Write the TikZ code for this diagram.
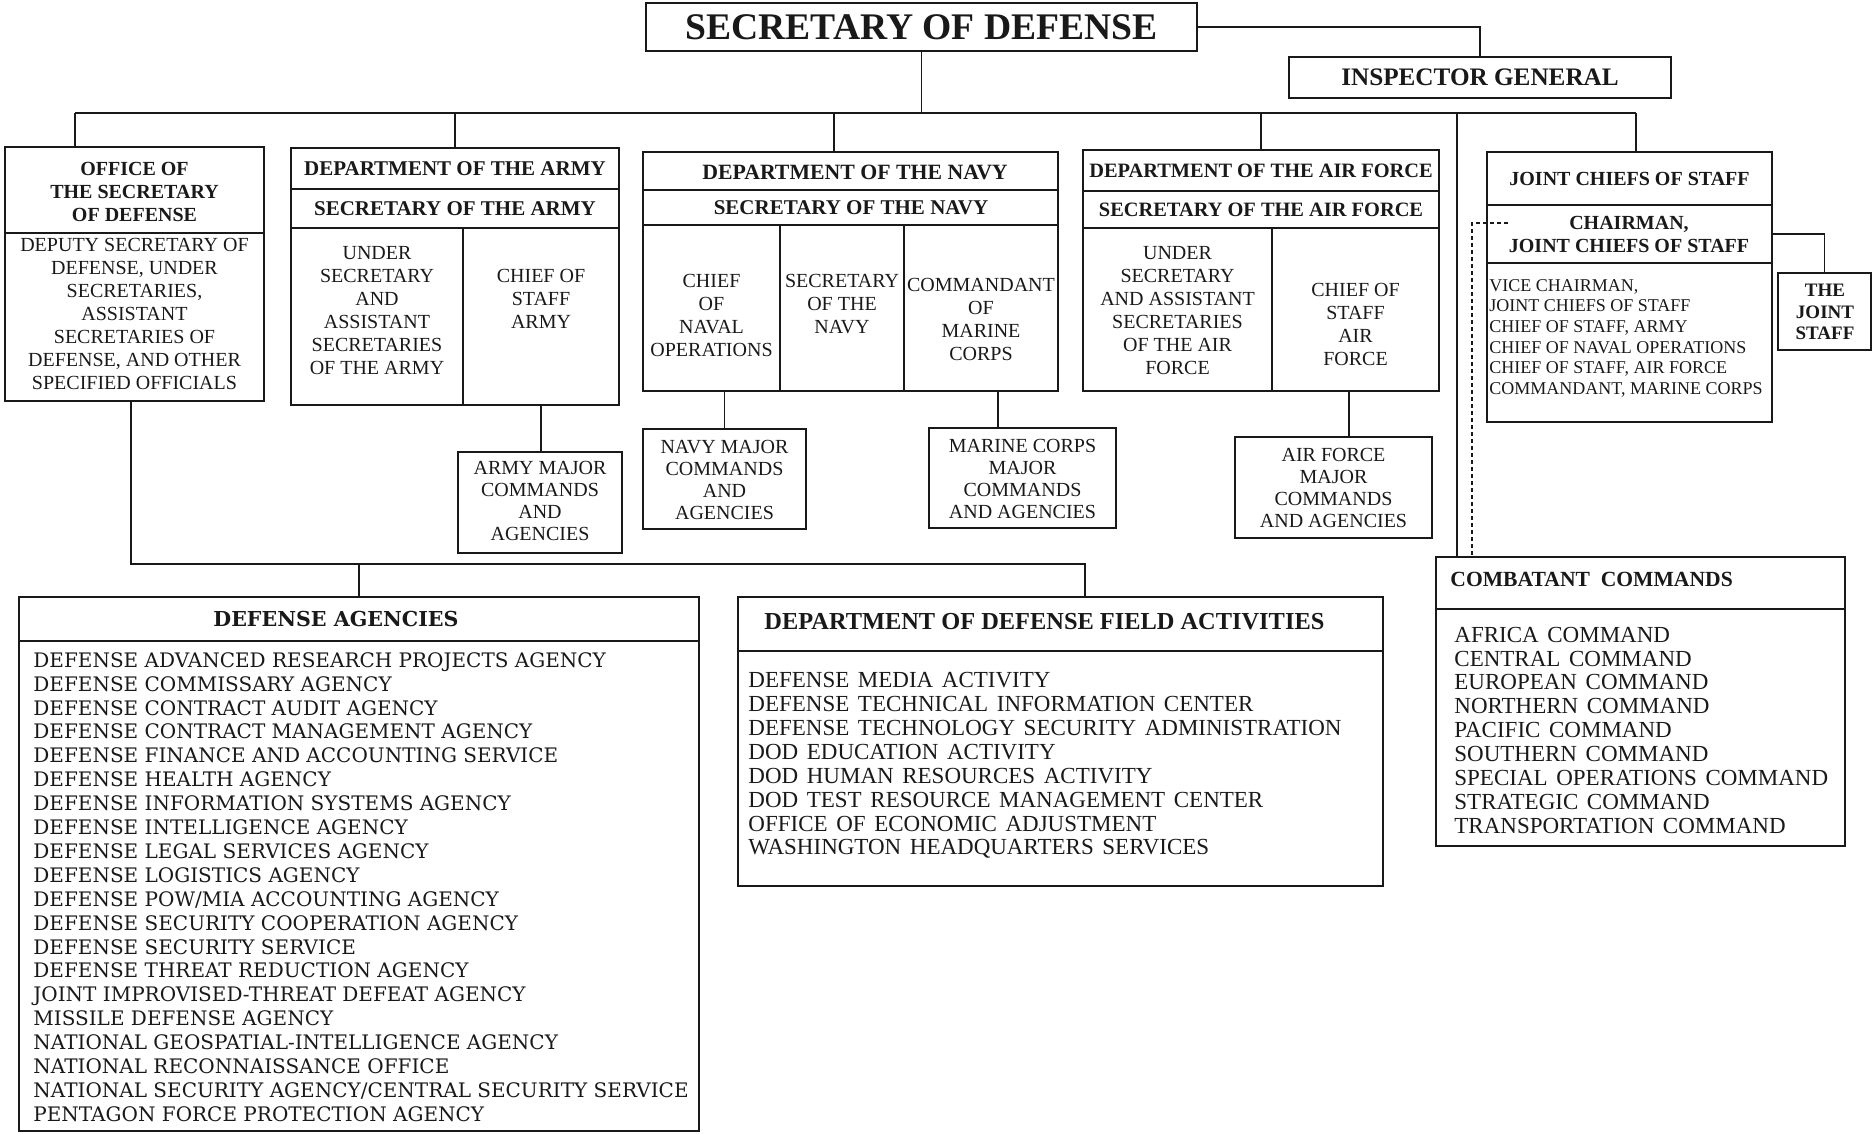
\documentclass[tikz,border=0pt]{standalone}
\usepackage{fontspec}
\setmainfont{Liberation Serif}
\newfontfamily\wideserif{DejaVu Serif}
\newfontfamily\spacedserif{Liberation Serif}[WordSpace=1.5]
\usetikzlibrary{fit}
\definecolor{ink}{RGB}{25,25,25}
\tikzset{
  orgbox/.style={draw=ink,line width=0.9pt,inner sep=0pt},
  majbox/.style={orgbox,line width=1.4pt},
  headtxt/.style={align=center,inner sep=0pt,text=ink,font=\bfseries\fontsize{10.5}{12}\selectfont},
  celltxt/.style={align=center,inner sep=0pt,text=ink,font=\fontsize{10}{11.5}\selectfont},
  majtxt/.style={celltxt,font=\fontsize{10}{11}\selectfont},
  listtxt/.style={align=left,inner sep=0pt,anchor=north west,text=ink},
  link/.style={draw=ink,line width=0.9pt},
  dashlink/.style={link,dash pattern=on 2pt off 1.5pt}
}

\begin{document}
\begin{tikzpicture}[x=0.5pt,y=-0.5pt]
  \useasboundingbox (0,0) rectangle (1873,1134);
  % top level
  \node[orgbox,fit={(646,3) (1197,51)}] (secdef) {};
  \node[headtxt,font=\bfseries\fontsize{18.8}{22}\selectfont] (secdeftxt) at (secdef.center) {SECRETARY OF DEFENSE};
  \node[orgbox,fit={(1289,57) (1671,98)}] (ig) {};
  \node[headtxt,font=\bfseries\fontsize{12.6}{14}\selectfont] (igtxt) at (ig.center) {INSPECTOR GENERAL};
  % office of the secretary
  \node[orgbox,fit={(5,147) (264,233)}] (osdhead) {};
  \node[headtxt,font=\bfseries\fontsize{10}{11.5}\selectfont] (osdheadtxt) at (134.5,192) {OFFICE OF\\THE SECRETARY\\OF DEFENSE};
  \node[orgbox,fit={(5,233) (264,401)}] (osdbody) {};
  \node[celltxt] (osdtxt) at (134.5,314) {DEPUTY SECRETARY OF\\DEFENSE, UNDER\\SECRETARIES,\\ASSISTANT\\SECRETARIES OF\\DEFENSE, AND OTHER\\SPECIFIED OFFICIALS};
  % army
  \node[orgbox,fit={(291,148) (619,189)}] (armyhead) {};
  \node[headtxt] (armyheadtxt) at (armyhead.center) {DEPARTMENT OF THE ARMY};
  \node[orgbox,fit={(291,189) (619,228)}] (armysec) {};
  \node[headtxt] (armysectxt) at (armysec.center) {SECRETARY OF THE ARMY};
  \node[orgbox,fit={(291,228) (463,405)}] (armyus) {};
  \node[orgbox,fit={(463,228) (619,405)}] (armycos) {};
  \node[celltxt] (armyustxt) at (377,310.5) {UNDER\\SECRETARY\\AND\\ASSISTANT\\SECRETARIES\\OF THE ARMY};
  \node[celltxt] (armycostxt) at (541,298.5) {CHIEF OF\\STAFF\\ARMY};
  \node[majbox,fit={(458,452) (622,553)}] (armymaj) {};
  \node[majtxt] (armymajtxt) at (540,501) {ARMY MAJOR\\COMMANDS\\AND\\AGENCIES};
  % navy
  \node[orgbox,fit={(643,152) (1058,190)}] (navyhead) {};
  \node[headtxt,font=\bfseries\fontsize{10.9}{12}\selectfont] (navyheadtxt) at (855,172) {DEPARTMENT OF THE NAVY};
  \node[orgbox,fit={(643,190) (1058,225)}] (navysec) {};
  \node[headtxt] (navysectxt) at (851,208) {SECRETARY OF THE NAVY};
  \node[orgbox,fit={(643,225) (780,391)}] (navycno) {};
  \node[orgbox,fit={(780,225) (904,391)}] (navysecn) {};
  \node[orgbox,fit={(904,225) (1058,391)}] (navycmc) {};
  \node[celltxt] (navycnotxt) at (711.5,315.5) {CHIEF\\OF\\NAVAL\\OPERATIONS};
  \node[celltxt] (navysecntxt) at (842,304.5) {SECRETARY\\OF THE\\NAVY};
  \node[celltxt] (navycmctxt) at (981,319) {COMMANDANT\\OF\\MARINE\\CORPS};
  \node[majbox,fit={(643,429) (806,529)}] (navymaj) {};
  \node[majtxt] (navymajtxt) at (724.5,479.5) {NAVY MAJOR\\COMMANDS\\AND\\AGENCIES};
  \node[majbox,fit={(929,428) (1116,528)}] (marmaj) {};
  \node[majtxt] (marmajtxt) at (1022.5,478.5) {MARINE CORPS\\MAJOR\\COMMANDS\\AND AGENCIES};
  % air force
  \node[orgbox,fit={(1083,150) (1439,191)}] (afhead) {};
  \node[headtxt,font=\bfseries\fontsize{10.2}{12}\selectfont] (afheadtxt) at (afhead.center) {DEPARTMENT OF THE AIR FORCE};
  \node[orgbox,fit={(1083,191) (1439,228)}] (afsec) {};
  \node[headtxt,font=\bfseries\fontsize{10.2}{12}\selectfont] (afsectxt) at (afsec.center) {SECRETARY OF THE AIR FORCE};
  \node[orgbox,fit={(1083,228) (1272,391)}] (afus) {};
  \node[orgbox,fit={(1272,228) (1439,391)}] (afcos) {};
  \node[celltxt] (afustxt) at (1177.5,310.5) {UNDER\\SECRETARY\\AND ASSISTANT\\SECRETARIES\\OF THE AIR\\FORCE};
  \node[celltxt] (afcostxt) at (1355.5,324.5) {CHIEF OF\\STAFF\\AIR\\FORCE};
  \node[majbox,fit={(1235,437) (1432,538)}] (afmaj) {};
  \node[majtxt] (afmajtxt) at (1333.5,488) {AIR FORCE\\MAJOR\\COMMANDS\\AND AGENCIES};
  % joint chiefs
  \node[orgbox,fit={(1487,152) (1772,205)}] (jcshead) {};
  \node[headtxt,font=\bfseries\fontsize{10}{11.5}\selectfont] (jcsheadtxt) at (jcshead.center) {JOINT CHIEFS OF STAFF};
  \node[orgbox,fit={(1487,205) (1772,263)}] (chair) {};
  \node[headtxt,font=\bfseries\fontsize{10}{11.5}\selectfont] (chairtxt) at (1629,234.5) {CHAIRMAN,\\JOINT CHIEFS OF STAFF};
  \node[orgbox,fit={(1487,263) (1772,422)}] (jcsbody) {};
  \node[listtxt,font=\fontsize{9}{10.3}\selectfont] (jcslist) at (1489,279) {VICE CHAIRMAN,\\JOINT CHIEFS OF STAFF\\CHIEF OF STAFF, ARMY\\CHIEF OF NAVAL OPERATIONS\\CHIEF OF STAFF, AIR FORCE\\COMMANDANT, MARINE CORPS};
  \node[orgbox,fit={(1778,273) (1871,350)}] (jstaff) {};
  \node[headtxt,font=\bfseries\fontsize{9.5}{10.75}\selectfont] (jstafftxt) at (1825,312) {THE\\JOINT\\STAFF};
  % agencies, field activities, combatant commands
  \node[orgbox,fit={(19,597) (699,641)}] (dahead) {};
  \node[orgbox,fit={(19,641) (699,1131)}] (dabody) {};
  \node[headtxt,font=\wideserif\bfseries\fontsize{10.3}{12}\selectfont] (datitle) at (336,619) {DEFENSE AGENCIES};
  \node[listtxt,font=\wideserif\fontsize{10}{11.95}\selectfont] (dalist) at (33,652) {DEFENSE ADVANCED RESEARCH PROJECTS AGENCY\\DEFENSE COMMISSARY AGENCY\\DEFENSE CONTRACT AUDIT AGENCY\\DEFENSE CONTRACT MANAGEMENT AGENCY\\DEFENSE FINANCE AND ACCOUNTING SERVICE\\DEFENSE HEALTH AGENCY\\DEFENSE INFORMATION SYSTEMS AGENCY\\DEFENSE INTELLIGENCE AGENCY\\DEFENSE LEGAL SERVICES AGENCY\\DEFENSE LOGISTICS AGENCY\\DEFENSE POW/MIA ACCOUNTING AGENCY\\DEFENSE SECURITY COOPERATION AGENCY\\DEFENSE SECURITY SERVICE\\DEFENSE THREAT REDUCTION AGENCY\\JOINT IMPROVISED-THREAT DEFEAT AGENCY\\MISSILE DEFENSE AGENCY\\NATIONAL GEOSPATIAL-INTELLIGENCE AGENCY\\NATIONAL RECONNAISSANCE OFFICE\\NATIONAL SECURITY AGENCY/CENTRAL SECURITY SERVICE\\PENTAGON FORCE PROTECTION AGENCY};
  \node[orgbox,fit={(738,597) (1383,651)}] (dfahead) {};
  \node[orgbox,fit={(738,651) (1383,886)}] (dfabody) {};
  \node[headtxt,anchor=west,font=\bfseries\fontsize{12.2}{14}\selectfont] (dfatitle) at (764,622) {DEPARTMENT OF DEFENSE FIELD ACTIVITIES};
  \node[listtxt,font=\spacedserif\fontsize{11.5}{11.95}\selectfont] (dfalist) at (748,672) {DEFENSE MEDIA ACTIVITY\\DEFENSE TECHNICAL INFORMATION CENTER\\DEFENSE TECHNOLOGY SECURITY ADMINISTRATION\\DOD EDUCATION ACTIVITY\\DOD HUMAN RESOURCES ACTIVITY\\DOD TEST RESOURCE MANAGEMENT CENTER\\OFFICE OF ECONOMIC ADJUSTMENT\\WASHINGTON HEADQUARTERS SERVICES};
  \node[orgbox,fit={(1436,557) (1845,609)}] (cchead) {};
  \node[orgbox,fit={(1436,609) (1845,846)}] (ccbody) {};
  \node[headtxt,anchor=west,font=\bfseries\fontsize{10.8}{12}\selectfont] (cctitle) at (1450,579) {COMBATANT\ \ COMMANDS};
  \node[listtxt,font=\spacedserif\fontsize{11.5}{11.95}\selectfont] (cclist) at (1454,626.5) {AFRICA COMMAND\\CENTRAL COMMAND\\EUROPEAN COMMAND\\NORTHERN COMMAND\\PACIFIC COMMAND\\SOUTHERN COMMAND\\SPECIAL OPERATIONS COMMAND\\STRATEGIC COMMAND\\TRANSPORTATION COMMAND};
  % junctions
  \coordinate (jOSD) at (75,113);
  \coordinate (jNavy) at (834,113);
  \coordinate (jCC) at (1457,113);
  \coordinate (jJCS) at (1636,113);
  \coordinate (jMar) at (998,391);
  \coordinate (jAFm) at (1349,391);
  \coordinate (jAg) at (131,564);
  \coordinate (jFA) at (1085,564);
  \coordinate (dashA) at (1508,223);
  \coordinate (dashB) at (1472,557);
  % connectors
  \draw[link] (secdef.south) -- (secdef.south |- jOSD);
  \draw[link] (secdef.east) -| (ig.north);
  \draw[link] (jOSD) -- (jJCS);
  \draw[link] (jOSD) -- (jOSD |- osdhead.north);
  \draw[link] (armyhead.north) -- (armyhead.north |- jOSD);
  \draw[link] (jNavy) -- (jNavy |- navyhead.north);
  \draw[link] (afhead.north) -- (afhead.north |- jOSD);
  \draw[link] (jJCS) -- (jJCS |- jcshead.north);
  \draw[link] (jCC) -- (jCC |- cchead.north);
  \draw[link] (armycos.south) -- (armycos.south |- armymaj.north);
  \draw[link] (navymaj.north) -- (navymaj.north |- navycno.south);
  \draw[link] (jMar) -- (jMar |- marmaj.north);
  \draw[link] (jAFm) -- (jAFm |- afmaj.north);
  \draw[link] (jAg |- osdbody.south) -- (jAg) -- (jFA) -- (jFA |- dfahead.north);
  \draw[link] (dahead.north) -- (dahead.north |- jAg);
  \draw[link] (chair.east) -| (jstaff.north);
  \draw[dashlink] (dashA) -| (dashB);
\end{tikzpicture}
\end{document}
